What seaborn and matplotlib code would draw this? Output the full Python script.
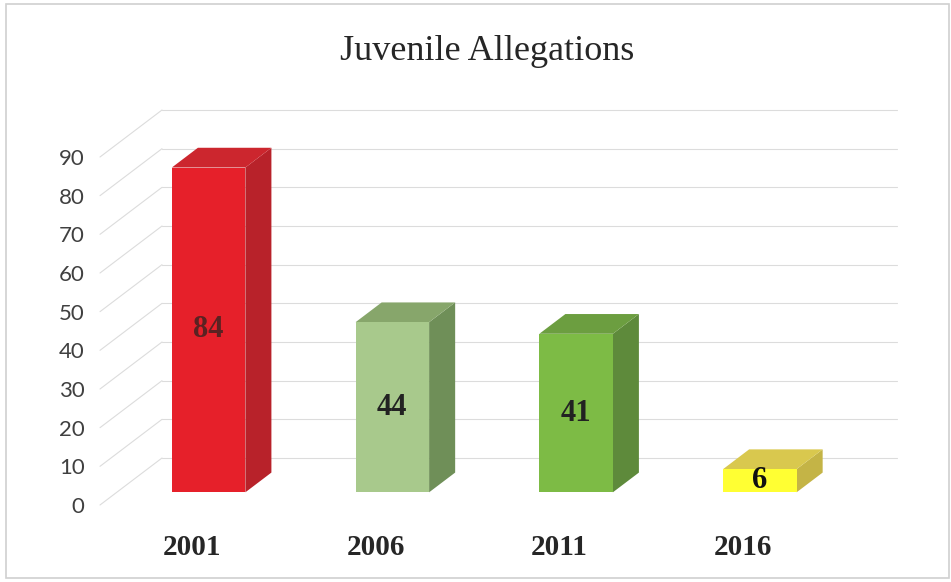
import numpy as np
import matplotlib
matplotlib.use("Agg")
import matplotlib.pyplot as plt
import matplotlib.transforms as mtransforms
from matplotlib.patches import Polygon
import seaborn as sns
import pandas as pd

# data
years = ["2001", "2006", "2011", "2016"]
allegations = [84, 44, 41, 6]
front_colors = ["#e6202a", "#a8c98c", "#7dbb45", "#ffff33"]
side_colors = ["#b8222a", "#6f8f58", "#5e8a3b", "#c4b446"]
top_colors = ["#cc262e", "#87a66b", "#6c9e40", "#d9c84e"]
label_colors = ["#5a2222", "#222222", "#222222", "#111111"]
yticks = list(range(0, 100, 10))

DPI = 100
W, H = 951, 582
DEPTH = np.array([62.0, 47.0])   # full depth offset of the 3d box, pixels (x right, y up)
D0, D1 = 0.27, 0.69              # front / back depth of the bars

sns.set_theme(style="white")
plt.rcParams["font.family"] = ["Liberation Serif", "DejaVu Serif"]

fig = plt.figure(figsize=(W / DPI, H / DPI), dpi=DPI)
ax = fig.add_axes([100 / W, 77 / H, 735 / W, 348 / H])

df = pd.DataFrame({"year": years, "count": allegations})
sns.barplot(data=df, x="year", y="count", hue="year", palette=front_colors,
            width=0.4, legend=False, ax=ax, linewidth=0, saturation=1)
ax.set_xlim(-0.5, 3.5)
ax.set_ylim(0, 90)
ax.set_xlabel("")
ax.set_ylabel("")
for s in ax.spines.values():
    s.set_visible(False)
ax.patch.set_alpha(0)


def shift(d):
    return ax.transData + mtransforms.ScaledTranslation(
        DEPTH[0] * d / DPI, DEPTH[1] * d / DPI, fig.dpi_scale_trans)


def to_fig(x, y, d):
    px = ax.transData.transform((x, y)) + DEPTH * d
    return fig.transFigure.inverted().transform(px)


# back wall grid lines and left wall diagonals
x0, x1 = ax.get_xlim()
for v in yticks:
    ax.plot([x0, x1], [v, v], color="#dcdcdc", lw=0.8, transform=shift(1.0),
            zorder=0, clip_on=False)
    a, b = to_fig(x0, v, 0.0), to_fig(x0, v, 1.0)
    ax.plot([a[0], b[0]], [a[1], b[1]], color="#dcdcdc", lw=0.8,
            transform=fig.transFigure, zorder=0, clip_on=False)

# turn the flat bars into boxes
for i, p in enumerate(ax.patches[:len(allegations)]):
    bx0, bx1 = p.get_x(), p.get_x() + p.get_width()
    h = p.get_height()
    p.set_transform(shift(D0))
    p.set_zorder(3)
    side = [to_fig(bx1, 0, D0), to_fig(bx1, 0, D1), to_fig(bx1, h, D1), to_fig(bx1, h, D0)]
    top = [to_fig(bx0, h, D0), to_fig(bx0, h, D1), to_fig(bx1, h, D1), to_fig(bx1, h, D0)]
    ax.add_patch(Polygon(side, closed=True, fc=side_colors[i], ec="none",
                         transform=fig.transFigure, zorder=2, clip_on=False))
    ax.add_patch(Polygon(top, closed=True, fc=top_colors[i], ec="none",
                         transform=fig.transFigure, zorder=2, clip_on=False))
    ax.text(i, h / 2, str(allegations[i]), ha="center", va="center",
            fontsize=22, fontweight="bold", color=label_colors[i],
            transform=shift(D0), zorder=5)

# axis labels
ax.set_yticks(yticks)
ax.set_yticklabels([str(v) for v in yticks], fontsize=16, color="#404040",
                   family=["Lato", "DejaVu Sans"])
ax.tick_params(axis="y", length=0, pad=11)
ax.set_xticks(range(len(years)))
ax.set_xticklabels(years, fontsize=21, fontweight="bold", color="#262626")
ax.tick_params(axis="x", length=0, pad=21)

fig.text(487 / W, 1 - 52 / H, "Juvenile Allegations", ha="center", va="center",
         fontsize=26, color="#262626")

# outer chart border
fig.add_artist(plt.Rectangle((6 / W, 4 / H), 943 / W, 574 / H, fill=False,
                             ec="#d0d0d0", lw=1.2, transform=fig.transFigure))

fig.savefig("out.png", dpi=DPI)
